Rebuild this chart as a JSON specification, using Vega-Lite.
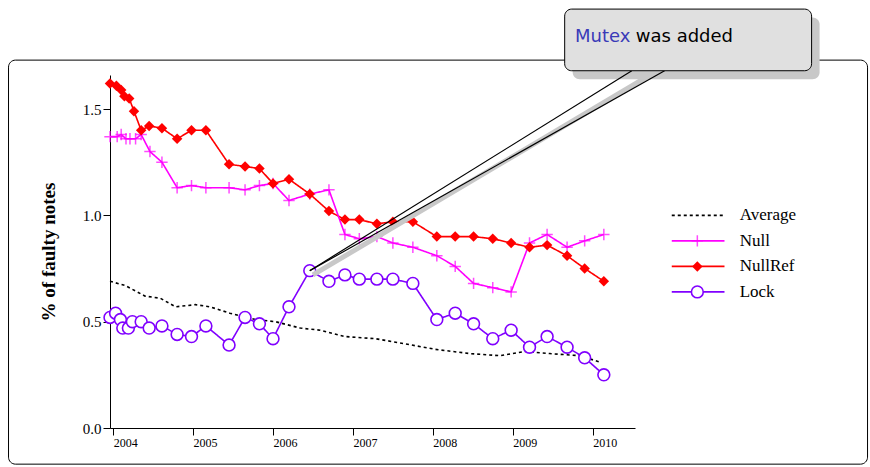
{
  "$schema": "https://vega.github.io/schema/vega-lite/v6.json",
  "autosize": {"type": "none"},
  "padding": {"left": 110, "top": 75, "right": 235, "bottom": 39},
  "width": 525,
  "height": 353,
  "config": {"view": {"stroke": null}, "font": "Liberation Serif"},
  "datasets": {
    "series": [
      {"s": "NullRef", "x": 2003.96, "y": 1.62}, {"s": "NullRef", "x": 2004.04, "y": 1.61}, {"s": "NullRef", "x": 2004.10, "y": 1.59},
      {"s": "NullRef", "x": 2004.14, "y": 1.56}, {"s": "NullRef", "x": 2004.20, "y": 1.55}, {"s": "NullRef", "x": 2004.26, "y": 1.49},
      {"s": "NullRef", "x": 2004.35, "y": 1.40}, {"s": "NullRef", "x": 2004.45, "y": 1.42}, {"s": "NullRef", "x": 2004.61, "y": 1.41},
      {"s": "NullRef", "x": 2004.80, "y": 1.36}, {"s": "NullRef", "x": 2004.98, "y": 1.40}, {"s": "NullRef", "x": 2005.16, "y": 1.40},
      {"s": "NullRef", "x": 2005.45, "y": 1.24}, {"s": "NullRef", "x": 2005.65, "y": 1.23}, {"s": "NullRef", "x": 2005.83, "y": 1.22},
      {"s": "NullRef", "x": 2006.00, "y": 1.15}, {"s": "NullRef", "x": 2006.20, "y": 1.17}, {"s": "NullRef", "x": 2006.46, "y": 1.10},
      {"s": "NullRef", "x": 2006.70, "y": 1.02}, {"s": "NullRef", "x": 2006.90, "y": 0.98}, {"s": "NullRef", "x": 2007.08, "y": 0.98},
      {"s": "NullRef", "x": 2007.30, "y": 0.96}, {"s": "NullRef", "x": 2007.50, "y": 0.97}, {"s": "NullRef", "x": 2007.75, "y": 0.97},
      {"s": "NullRef", "x": 2008.05, "y": 0.90}, {"s": "NullRef", "x": 2008.28, "y": 0.90}, {"s": "NullRef", "x": 2008.51, "y": 0.90},
      {"s": "NullRef", "x": 2008.75, "y": 0.89}, {"s": "NullRef", "x": 2008.98, "y": 0.87}, {"s": "NullRef", "x": 2009.21, "y": 0.85},
      {"s": "NullRef", "x": 2009.43, "y": 0.86}, {"s": "NullRef", "x": 2009.68, "y": 0.81}, {"s": "NullRef", "x": 2009.90, "y": 0.75},
      {"s": "NullRef", "x": 2010.14, "y": 0.69},
      {"s": "Null", "x": 2003.96, "y": 1.37}, {"s": "Null", "x": 2004.05, "y": 1.37}, {"s": "Null", "x": 2004.10, "y": 1.38},
      {"s": "Null", "x": 2004.16, "y": 1.36}, {"s": "Null", "x": 2004.21, "y": 1.36}, {"s": "Null", "x": 2004.28, "y": 1.36},
      {"s": "Null", "x": 2004.35, "y": 1.38}, {"s": "Null", "x": 2004.46, "y": 1.30}, {"s": "Null", "x": 2004.61, "y": 1.25},
      {"s": "Null", "x": 2004.80, "y": 1.13}, {"s": "Null", "x": 2004.98, "y": 1.14}, {"s": "Null", "x": 2005.16, "y": 1.13},
      {"s": "Null", "x": 2005.45, "y": 1.13}, {"s": "Null", "x": 2005.65, "y": 1.12}, {"s": "Null", "x": 2005.83, "y": 1.14},
      {"s": "Null", "x": 2006.00, "y": 1.15}, {"s": "Null", "x": 2006.20, "y": 1.07}, {"s": "Null", "x": 2006.46, "y": 1.10},
      {"s": "Null", "x": 2006.70, "y": 1.12}, {"s": "Null", "x": 2006.90, "y": 0.91}, {"s": "Null", "x": 2007.08, "y": 0.89},
      {"s": "Null", "x": 2007.30, "y": 0.90}, {"s": "Null", "x": 2007.50, "y": 0.87}, {"s": "Null", "x": 2007.75, "y": 0.85},
      {"s": "Null", "x": 2008.05, "y": 0.81}, {"s": "Null", "x": 2008.28, "y": 0.76}, {"s": "Null", "x": 2008.51, "y": 0.68},
      {"s": "Null", "x": 2008.75, "y": 0.66}, {"s": "Null", "x": 2008.98, "y": 0.64}, {"s": "Null", "x": 2009.21, "y": 0.87},
      {"s": "Null", "x": 2009.43, "y": 0.91}, {"s": "Null", "x": 2009.68, "y": 0.85}, {"s": "Null", "x": 2009.90, "y": 0.88},
      {"s": "Null", "x": 2010.14, "y": 0.91},
      {"s": "Lock", "x": 2003.96, "y": 0.52}, {"s": "Lock", "x": 2004.03, "y": 0.54}, {"s": "Lock", "x": 2004.09, "y": 0.51},
      {"s": "Lock", "x": 2004.12, "y": 0.47}, {"s": "Lock", "x": 2004.19, "y": 0.47}, {"s": "Lock", "x": 2004.24, "y": 0.50},
      {"s": "Lock", "x": 2004.35, "y": 0.50}, {"s": "Lock", "x": 2004.45, "y": 0.47}, {"s": "Lock", "x": 2004.61, "y": 0.48},
      {"s": "Lock", "x": 2004.80, "y": 0.44}, {"s": "Lock", "x": 2004.98, "y": 0.43}, {"s": "Lock", "x": 2005.16, "y": 0.48},
      {"s": "Lock", "x": 2005.45, "y": 0.39}, {"s": "Lock", "x": 2005.65, "y": 0.52}, {"s": "Lock", "x": 2005.83, "y": 0.49},
      {"s": "Lock", "x": 2006.00, "y": 0.42}, {"s": "Lock", "x": 2006.20, "y": 0.57}, {"s": "Lock", "x": 2006.46, "y": 0.74},
      {"s": "Lock", "x": 2006.70, "y": 0.69}, {"s": "Lock", "x": 2006.90, "y": 0.72}, {"s": "Lock", "x": 2007.08, "y": 0.70},
      {"s": "Lock", "x": 2007.30, "y": 0.70}, {"s": "Lock", "x": 2007.50, "y": 0.70}, {"s": "Lock", "x": 2007.75, "y": 0.68},
      {"s": "Lock", "x": 2008.05, "y": 0.51}, {"s": "Lock", "x": 2008.28, "y": 0.54}, {"s": "Lock", "x": 2008.51, "y": 0.49},
      {"s": "Lock", "x": 2008.75, "y": 0.42}, {"s": "Lock", "x": 2008.98, "y": 0.46}, {"s": "Lock", "x": 2009.21, "y": 0.38},
      {"s": "Lock", "x": 2009.43, "y": 0.43}, {"s": "Lock", "x": 2009.68, "y": 0.38}, {"s": "Lock", "x": 2009.90, "y": 0.33},
      {"s": "Lock", "x": 2010.14, "y": 0.25},
      {"s": "Average", "x": 2003.96, "y": 0.69}, {"s": "Average", "x": 2004.15, "y": 0.67}, {"s": "Average", "x": 2004.40, "y": 0.62},
      {"s": "Average", "x": 2004.59, "y": 0.61}, {"s": "Average", "x": 2004.78, "y": 0.57}, {"s": "Average", "x": 2005.03, "y": 0.58},
      {"s": "Average", "x": 2005.21, "y": 0.57}, {"s": "Average", "x": 2005.46, "y": 0.54}, {"s": "Average", "x": 2005.78, "y": 0.51},
      {"s": "Average", "x": 2006.03, "y": 0.50}, {"s": "Average", "x": 2006.34, "y": 0.47}, {"s": "Average", "x": 2006.59, "y": 0.46},
      {"s": "Average", "x": 2006.90, "y": 0.43}, {"s": "Average", "x": 2007.28, "y": 0.42}, {"s": "Average", "x": 2007.59, "y": 0.40},
      {"s": "Average", "x": 2008.03, "y": 0.37}, {"s": "Average", "x": 2008.46, "y": 0.35}, {"s": "Average", "x": 2008.84, "y": 0.34},
      {"s": "Average", "x": 2009.15, "y": 0.36}, {"s": "Average", "x": 2009.46, "y": 0.35}, {"s": "Average", "x": 2009.84, "y": 0.34},
      {"s": "Average", "x": 2010.09, "y": 0.31}
    ],
    "legend": [
      {"s": "Average", "x1": 2010.99, "x2": 2011.65, "xm": 2011.31, "xt": 2011.84, "y": 1.0},
      {"s": "Null", "x1": 2010.99, "x2": 2011.65, "xm": 2011.31, "xt": 2011.84, "y": 0.88},
      {"s": "NullRef", "x1": 2010.99, "x2": 2011.65, "xm": 2011.31, "xt": 2011.84, "y": 0.76},
      {"s": "Lock", "x1": 2010.99, "x2": 2011.65, "xm": 2011.31, "xt": 2011.84, "y": 0.64}
    ],
    "pointer": [
      {"k": "shadow", "o": 0, "x": 2006.5, "y": 0.72}, {"k": "shadow", "o": 1, "x": 2010.72, "y": 1.66},
      {"k": "a", "o": 0, "x": 2006.46, "y": 0.74}, {"k": "a", "o": 1, "x": 2010.49, "y": 1.68},
      {"k": "b", "o": 0, "x": 2006.46, "y": 0.74}, {"k": "b", "o": 1, "x": 2010.9, "y": 1.68}
    ]
  },
  "layer": [
    {
      "data": {"values": [{"x": 2002.69, "x2": 2013.44, "y": 1.73, "y2": -0.17}]},
      "mark": {"type": "rect", "fill": null, "fillOpacity": 0, "stroke": "black", "strokeWidth": 1, "cornerRadius": 7},
      "encoding": {
        "x": {"field": "x", "type": "quantitative", "scale": {"domain": [2003.96, 2010.53], "zero": false, "nice": false},
          "axis": {"values": [2004, 2005, 2006, 2007, 2008, 2009, 2010], "format": "d", "title": null, "grid": false,
            "domainColor": "black", "tickColor": "black", "tickSize": 7, "labelFont": "Liberation Serif", "labelFontSize": 12,
            "labelColor": "black", "labelAlign": "left", "labelPadding": 2}},
        "x2": {"field": "x2"},
        "y": {"field": "y", "type": "quantitative", "scale": {"domain": [0, 1.66], "nice": false, "zero": false},
          "axis": {"values": [0, 0.5, 1, 1.5], "format": ".1f", "title": "% of faulty notes", "grid": false,
            "domainColor": "black", "tickColor": "black", "tickSize": 7, "labelFont": "Liberation Serif", "labelFontSize": 15,
            "labelColor": "black", "titleFont": "Liberation Serif", "titleFontSize": 19, "titleFontWeight": "bold",
            "titleColor": "black", "titlePadding": 24}},
        "y2": {"field": "y2"}
      }
    },
    {
      "data": {"name": "series"},
      "mark": {"type": "line", "strokeWidth": 1.6},
      "encoding": {
        "x": {"field": "x", "type": "quantitative"},
        "y": {"field": "y", "type": "quantitative"},
        "detail": {"field": "s"},
        "color": {"field": "s", "type": "nominal", "legend": null,
          "scale": {"domain": ["Average", "Null", "NullRef", "Lock"], "range": ["black", "#ff00ff", "#ff0000", "#8000ff"]}},
        "strokeDash": {"field": "s", "type": "nominal", "legend": null,
          "scale": {"domain": ["Average", "Null", "NullRef", "Lock"], "range": [[3, 3], [1, 0], [1, 0], [1, 0]]}}
      }
    },
    {
      "data": {"name": "series"},
      "transform": [{"filter": "datum.s == 'Null'"}],
      "mark": {"type": "point", "shape": "M-1,0L1,0M0,-1L0,1", "size": 130, "color": "#ff00ff", "strokeWidth": 1.5},
      "encoding": {"x": {"field": "x", "type": "quantitative"}, "y": {"field": "y", "type": "quantitative"}}
    },
    {
      "data": {"name": "series"},
      "transform": [{"filter": "datum.s == 'NullRef'"}],
      "mark": {"type": "point", "shape": "diamond", "size": 110, "filled": true, "color": "#ff0000", "opacity": 1},
      "encoding": {"x": {"field": "x", "type": "quantitative"}, "y": {"field": "y", "type": "quantitative"}}
    },
    {
      "data": {"name": "series"},
      "transform": [{"filter": "datum.s == 'Lock'"}],
      "mark": {"type": "point", "shape": "circle", "size": 140, "fill": "white", "stroke": "#8000ff", "strokeWidth": 1.6, "opacity": 1},
      "encoding": {"x": {"field": "x", "type": "quantitative"}, "y": {"field": "y", "type": "quantitative"}}
    },
    {
      "data": {"name": "legend"},
      "mark": {"type": "rule", "strokeWidth": 1.6},
      "encoding": {
        "x": {"field": "x1", "type": "quantitative"}, "x2": {"field": "x2"},
        "y": {"field": "y", "type": "quantitative"},
        "color": {"field": "s", "type": "nominal", "legend": null},
        "strokeDash": {"field": "s", "type": "nominal", "legend": null}
      }
    },
    {
      "data": {"name": "legend"},
      "transform": [{"filter": "datum.s == 'Null'"}],
      "mark": {"type": "point", "shape": "M-1,0L1,0M0,-1L0,1", "size": 130, "color": "#ff00ff", "strokeWidth": 1.5},
      "encoding": {"x": {"field": "xm", "type": "quantitative"}, "y": {"field": "y", "type": "quantitative"}}
    },
    {
      "data": {"name": "legend"},
      "transform": [{"filter": "datum.s == 'NullRef'"}],
      "mark": {"type": "point", "shape": "diamond", "size": 110, "filled": true, "color": "#ff0000", "opacity": 1},
      "encoding": {"x": {"field": "xm", "type": "quantitative"}, "y": {"field": "y", "type": "quantitative"}}
    },
    {
      "data": {"name": "legend"},
      "transform": [{"filter": "datum.s == 'Lock'"}],
      "mark": {"type": "point", "shape": "circle", "size": 140, "fill": "white", "stroke": "#8000ff", "strokeWidth": 1.6, "opacity": 1},
      "encoding": {"x": {"field": "xm", "type": "quantitative"}, "y": {"field": "y", "type": "quantitative"}}
    },
    {
      "data": {"name": "legend"},
      "mark": {"type": "text", "align": "left", "baseline": "middle", "font": "Liberation Serif", "fontSize": 17, "color": "black"},
      "encoding": {
        "x": {"field": "xt", "type": "quantitative"}, "y": {"field": "y", "type": "quantitative"},
        "text": {"field": "s"}
      }
    },
    {
      "data": {"name": "pointer"},
      "transform": [{"filter": "datum.k == 'shadow'"}],
      "mark": {"type": "line", "color": "#c8c8c8", "strokeWidth": 5},
      "encoding": {"x": {"field": "x", "type": "quantitative"}, "y": {"field": "y", "type": "quantitative"}, "order": {"field": "o"}}
    },
    {
      "data": {"values": [{"x": 2009.75, "x2": 2012.84, "y": 1.93, "y2": 1.64}]},
      "mark": {"type": "rect", "fill": "#c8c8c8", "cornerRadius": 7},
      "encoding": {
        "x": {"field": "x", "type": "quantitative"}, "x2": {"field": "x2"},
        "y": {"field": "y", "type": "quantitative"}, "y2": {"field": "y2"}
      }
    },
    {
      "data": {"name": "pointer"},
      "transform": [{"filter": "datum.k != 'shadow'"}],
      "mark": {"type": "line", "color": "black", "strokeWidth": 1.2},
      "encoding": {"x": {"field": "x", "type": "quantitative"}, "y": {"field": "y", "type": "quantitative"},
        "detail": {"field": "k"}, "order": {"field": "o"}}
    },
    {
      "data": {"values": [{"x": 2009.65, "x2": 2012.74, "y": 1.97, "y2": 1.68}]},
      "mark": {"type": "rect", "fill": "#e0e0e0", "stroke": "black", "strokeWidth": 1, "cornerRadius": 7},
      "encoding": {
        "x": {"field": "x", "type": "quantitative"}, "x2": {"field": "x2"},
        "y": {"field": "y", "type": "quantitative"}, "y2": {"field": "y2"}
      }
    },
    {
      "data": {"values": [{"t": "Mutex", "x": 2009.78, "y": 1.84, "c": "#3a3ab8"}, {"t": "was added", "x": 2010.54, "y": 1.84, "c": "black"}]},
      "mark": {"type": "text", "align": "left", "baseline": "middle", "font": "DejaVu Sans", "fontSize": 18},
      "encoding": {
        "x": {"field": "x", "type": "quantitative"}, "y": {"field": "y", "type": "quantitative"},
        "text": {"field": "t"}, "color": {"field": "c", "type": "nominal", "scale": null}
      }
    }
  ]
}
